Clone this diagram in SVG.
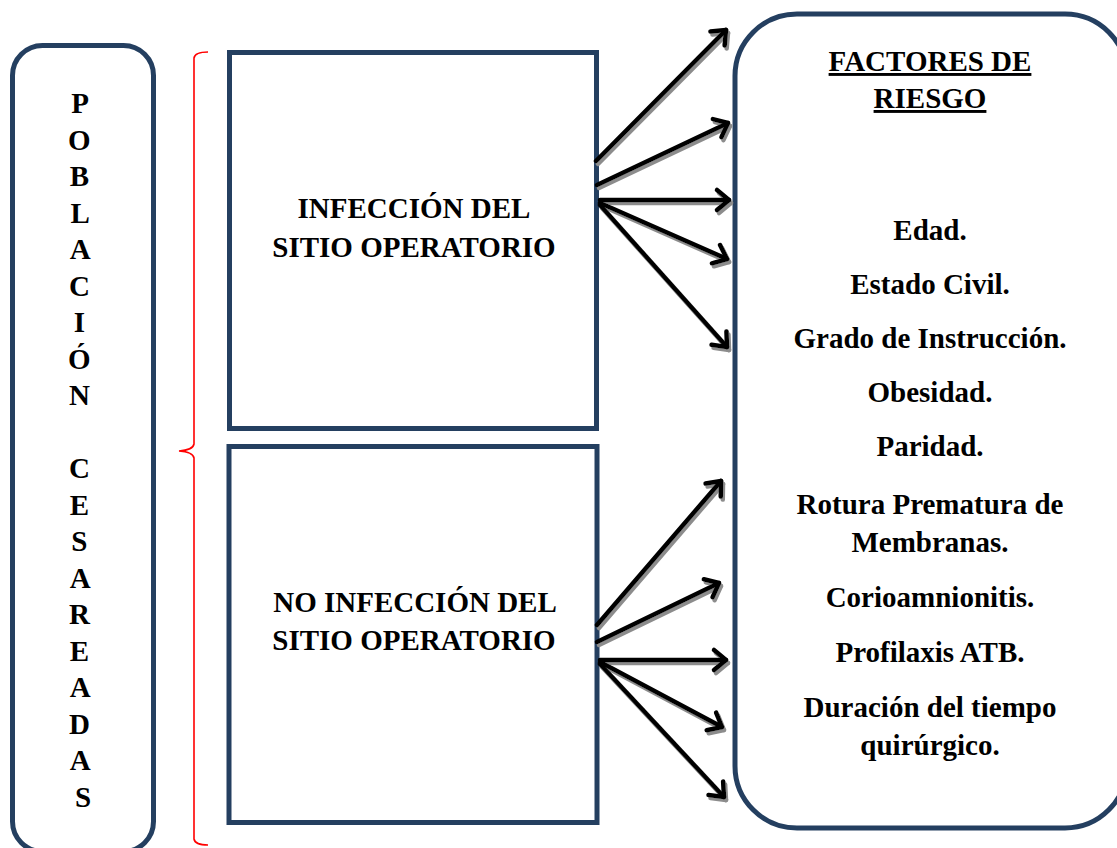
<svg xmlns="http://www.w3.org/2000/svg" width="1117" height="848" viewBox="0 0 1117 848">
<style>
.box{fill:#fff;stroke:#243F60;stroke-width:5}
.t{font-family:"Liberation Serif","Times New Roman",serif;font-weight:bold;font-size:29px;fill:#000;text-anchor:middle}
.arr{stroke:#000;stroke-width:4.5;fill:none;stroke-linecap:round;marker-end:url(#ah)}
</style>
<defs>
<marker id="ah" viewBox="-14 -10 16 20" refX="0" refY="0" markerWidth="16" markerHeight="20" markerUnits="userSpaceOnUse" orient="auto" overflow="visible">
<path d="M-12,-10 L0,0 L-12,10" fill="none" stroke="#000" stroke-width="4.5" stroke-linecap="round" stroke-linejoin="round"/>
</marker>
<filter id="sh" x="-20%" y="-20%" width="140%" height="140%">
<feDropShadow dx="2" dy="3" stdDeviation="0.6" flood-color="#8c8c8c" flood-opacity="1"/>
</filter>
</defs>
<rect width="1117" height="848" fill="#fff"/>

<g id="poblacion">
<rect class="box" x="12.5" y="45.5" width="141" height="806" rx="30"/>
<text class="t" x="83">
<tspan x="83" y="113">P</tspan>
<tspan x="83" y="149.5">O</tspan>
<tspan x="83" y="186">B</tspan>
<tspan x="83" y="222.5">L</tspan>
<tspan x="83" y="259">A</tspan>
<tspan x="83" y="295.5">C</tspan>
<tspan x="83" y="332">I</tspan>
<tspan x="83" y="368.5">Ó</tspan>
<tspan x="83" y="405">N</tspan>
<tspan x="83" y="478">C</tspan>
<tspan x="83" y="514.5">E</tspan>
<tspan x="83" y="551">S</tspan>
<tspan x="83" y="587.5">A</tspan>
<tspan x="83" y="624">R</tspan>
<tspan x="83" y="660.5">E</tspan>
<tspan x="83" y="697">A</tspan>
<tspan x="83" y="733.5">D</tspan>
<tspan x="83" y="770">A</tspan>
<tspan x="83" y="807">S</tspan>
</text>
</g>

<g id="llave">
<path d="M208,52 Q195,52 194,58 L194,444 Q193,450 179,451 Q193,452 194,458 L194,839 Q195,845 208,845" fill="none" stroke="#ff0000" stroke-width="1.6"/>
</g>

<g id="infeccion">
<rect class="box" x="229.5" y="52.5" width="367" height="376"/>
<text class="t" x="414" y="218">INFECCIÓN DEL</text>
<text class="t" x="414" y="257">SITIO OPERATORIO</text>
</g>

<g id="no-infeccion">
<rect class="box" x="229" y="446.5" width="368" height="376"/>
<text class="t" x="415" y="612">NO INFECCIÓN DEL</text>
<text class="t" x="414" y="650">SITIO OPERATORIO</text>
</g>

<g id="factores">
<rect class="box" x="735" y="14" width="392" height="814" rx="62"/>
<text class="t" x="930" y="71" text-decoration="underline">FACTORES DE</text>
<text class="t" x="930" y="108" text-decoration="underline">RIESGO</text>
<text class="t" x="930" y="240">Edad.</text>
<text class="t" x="930" y="294">Estado Civil.</text>
<text class="t" x="930" y="348">Grado de Instrucción.</text>
<text class="t" x="930" y="402">Obesidad.</text>
<text class="t" x="930" y="456">Paridad.</text>
<text class="t" x="930" y="514">Rotura Prematura de</text>
<text class="t" x="930" y="552">Membranas.</text>
<text class="t" x="930" y="607">Corioamnionitis.</text>
<text class="t" x="930" y="662">Profilaxis ATB.</text>
<text class="t" x="930" y="717">Duración del tiempo</text>
<text class="t" x="930" y="755">quirúrgico.</text>
</g>

<g id="connectors" filter="url(#sh)">
<line class="arr" x1="596" y1="161" x2="726" y2="30"/>
<line class="arr" x1="597" y1="185" x2="728" y2="123"/>
<line class="arr" x1="600" y1="200" x2="729" y2="200"/>
<line class="arr" x1="600" y1="203" x2="727" y2="259"/>
<line class="arr" x1="600" y1="205" x2="727" y2="347"/>
<line class="arr" x1="597" y1="625" x2="721" y2="481"/>
<line class="arr" x1="597" y1="642" x2="719" y2="583"/>
<line class="arr" x1="600" y1="660" x2="726" y2="660"/>
<line class="arr" x1="600" y1="662" x2="722" y2="727"/>
<line class="arr" x1="600" y1="664" x2="724" y2="797"/>
</g>
</svg>
